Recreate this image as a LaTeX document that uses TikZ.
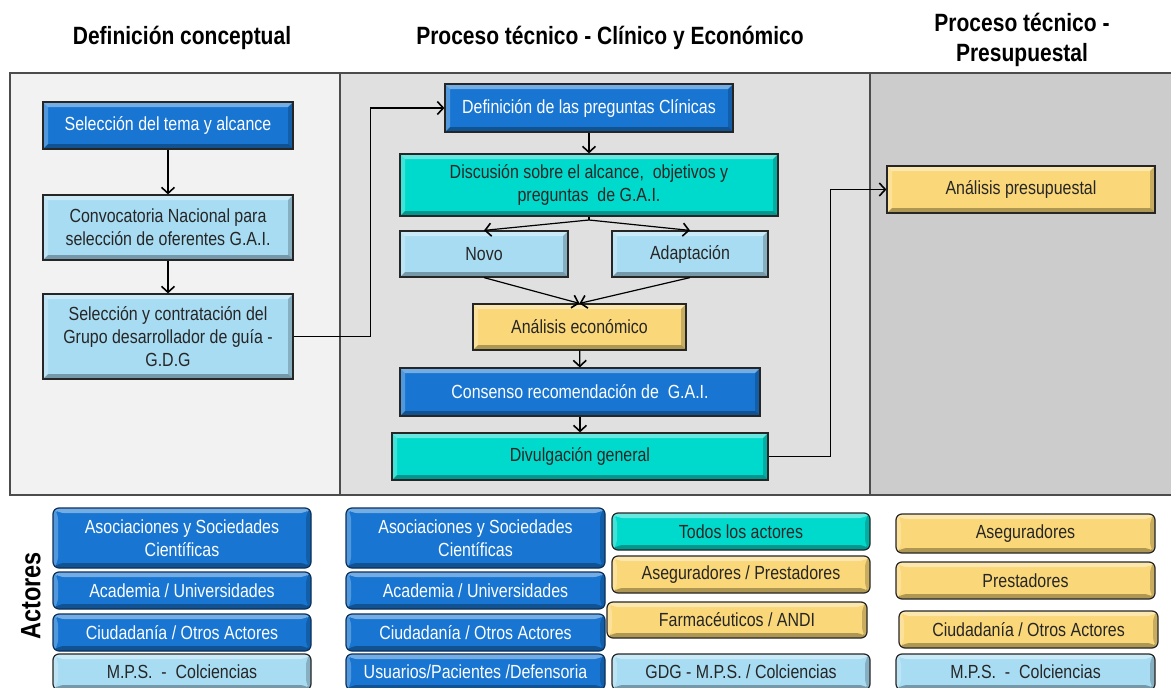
\documentclass[tikz,border=0pt]{standalone}
\usepackage{fontspec}
\setmainfont[FakeStretch=0.84]{Liberation Sans}
\usetikzlibrary{arrows.meta}

\definecolor{azul}{RGB}{24,118,210}
\definecolor{celeste}{RGB}{168,220,242}
\definecolor{turquesa}{RGB}{0,218,204}
\definecolor{amarillo}{RGB}{250,215,120}
\definecolor{fondoA}{RGB}{242,242,242}
\definecolor{fondoB}{RGB}{224,224,224}
\definecolor{fondoC}{RGB}{204,204,204}
\definecolor{marino}{RGB}{12,48,90}

\tikzset{
	bisel/.style={path picture={
		\fill[white, opacity=0.4] (path picture bounding box.north west) -- (path picture bounding box.north east)
			-- ([xshift=-5pt,yshift=-5pt]path picture bounding box.north east) -- ([xshift=5pt,yshift=-5pt]path picture bounding box.north west) -- cycle;
		\fill[white, opacity=0.25] (path picture bounding box.north west) -- (path picture bounding box.south west)
			-- ([xshift=5pt,yshift=5pt]path picture bounding box.south west) -- ([xshift=5pt,yshift=-5pt]path picture bounding box.north west) -- cycle;
		\fill[black, opacity=0.3] (path picture bounding box.south west) -- (path picture bounding box.south east)
			-- ([xshift=-5pt,yshift=5pt]path picture bounding box.south east) -- ([xshift=5pt,yshift=5pt]path picture bounding box.south west) -- cycle;
		\fill[black, opacity=0.2] (path picture bounding box.north east) -- (path picture bounding box.south east)
			-- ([xshift=-5pt,yshift=5pt]path picture bounding box.south east) -- ([xshift=-5pt,yshift=-5pt]path picture bounding box.north east) -- cycle;
	}},
	caja/.style={draw=black!85, line width=1.2pt, align=center, inner sep=0pt, text=black!85, font=\fontsize{19}{23}\selectfont, bisel},
	oscura/.style={caja, fill=azul, text=white},
	clara/.style={caja, fill=celeste},
	verde/.style={caja, fill=turquesa},
	ocre/.style={caja, fill=amarillo},
	actor/.style={rounded corners=6pt},
	actorazul/.style={oscura, actor, draw=marino},
	dim/.style 2 args={minimum width=#1pt, minimum height=#2pt},
	flecha/.style={line width=1.2pt, -{Straight Barb[length=6pt,width=13pt,line width=1.6pt]}},
	titulo/.style={font=\fontsize{25}{30}\selectfont\bfseries, align=center}
}

\begin{document}
\begin{tikzpicture}[x=1pt,y=-1pt]

	\useasboundingbox (0,0) rectangle (1171,688);

	\fill[fondoA] (10,73) rectangle (340,495);
	\fill[fondoB] (340,73) rectangle (870,495);
	\fill[fondoC] (870,73) rectangle (1172,495);
	\draw[black!70, line width=1.3pt] (10,73) rectangle (1173,495);
	\draw[black!70, line width=1.3pt] (340,73) -- (340,495);
	\draw[black!70, line width=1.3pt] (870,73) -- (870,495);

	\node[titulo] (tit1) at (182,38) {Definición conceptual};
	\node[titulo] (tit2) at (610,38) {Proceso técnico - Clínico y Económico};
	\node[titulo] (tit3) at (1022,40) {Proceso técnico -\\Presupuestal};

	\node[oscura, dim={250}{47}] (tema) at (168,125.5) {Selección del tema y alcance};
	\node[clara, dim={250}{65}] (convocatoria) at (168,227.5) {Convocatoria Nacional para\\selección de oferentes G.A.I.};
	\node[clara, dim={250}{85}] (seleccion) at (168,336.5) {Selección y contratación del\\Grupo desarrollador de guía -\\G.D.G};

	\node[oscura, dim={288}{48}] (preguntas) at (589,108) {Definición de las preguntas Clínicas};
	\node[verde, dim={378}{62}] (discusion) at (589,185) {Discusión sobre el alcance,~ objetivos y\\preguntas~ de G.A.I.};
	\node[clara, dim={168}{46}] (novo) at (484,254) {Novo};
	\node[clara, dim={156}{46}] (adaptacion) at (690,254) {Adaptación};
	\node[ocre, dim={213}{46}] (economico) at (579.5,327) {Análisis económico};
	\node[oscura, dim={360}{48}] (consenso) at (580,392) {Consenso recomendación de~ G.A.I.};
	\node[verde, dim={376}{47}] (divulgacion) at (580,456.5) {Divulgación general};

	\node[ocre, dim={268}{47}] (presupuestal) at (1021,189.5) {Análisis presupuestal};

	\coordinate (reparto) at (589,220);

	\draw[flecha] (tema) -- (convocatoria);
	\draw[flecha] (convocatoria) -- (seleccion);
	\draw[flecha] (seleccion.east) -- ++(77,0) |- (preguntas.west);
	\draw[flecha] (preguntas) -- (discusion);
	\draw[line width=1.2pt] (discusion.south) -- (reparto);
	\draw[flecha] (reparto) -- (novo.north);
	\draw[flecha] (reparto) -- (adaptacion.north);
	\draw[flecha] (novo.south) -- (economico.north);
	\draw[flecha] (adaptacion.south) -- (economico.north);
	\draw[flecha] (economico) -- (consenso);
	\draw[flecha] (consenso) -- (divulgacion);
	\draw[flecha] (divulgacion.east) -- ++(62,0) |- (presupuestal.west);

	\node[font=\fontsize{28}{30}\selectfont\bfseries, rotate=90] (actores) at (31,596) {Actores};

	\node[actorazul, dim={258}{60}] (asoc1) at (182,538) {Asociaciones y Sociedades\\Científicas};
	\node[actorazul, dim={258}{37}] (acad1) at (182,590.5) {Academia / Universidades};
	\node[actorazul, dim={258}{37}] (ciud1) at (182,632.5) {Ciudadanía / Otros Actores};
	\node[clara, actor, dim={258}{36}] (mps1) at (182,672) {M.P.S.~ -~ Colciencias};

	\node[actorazul, dim={259}{60}] (asoc2) at (475.5,538) {Asociaciones y Sociedades\\Científicas};
	\node[actorazul, dim={259}{37}] (acad2) at (475.5,590.5) {Academia / Universidades};
	\node[actorazul, dim={259}{37}] (ciud2) at (475.5,632.5) {Ciudadanía / Otros Actores};
	\node[actorazul, dim={259}{36}] (usuarios) at (475.5,672) {Usuarios/Pacientes /Defensoria};

	\node[verde, actor, dim={258}{37}] (todos) at (741,531.5) {Todos los actores};
	\node[ocre, actor, dim={258}{37}] (asegprest) at (741,574.5) {Aseguradores / Prestadores};
	\node[ocre, actor, dim={260}{36}] (farma) at (737,620) {Farmacéuticos / ANDI};
	\node[clara, actor, dim={258}{36}] (gdg) at (741,672) {GDG - M.P.S. / Colciencias};

	\node[ocre, actor, dim={259}{39}] (aseg) at (1025.5,533.5) {Aseguradores};
	\node[ocre, actor, dim={259}{37}] (prest) at (1025.5,580.5) {Prestadores};
	\node[ocre, actor, dim={259}{37}] (ciud3) at (1028.5,629.5) {Ciudadanía / Otros Actores};
	\node[clara, actor, dim={259}{36}] (mps2) at (1025.5,672) {M.P.S.~ -~ Colciencias};

\end{tikzpicture}
\end{document}
